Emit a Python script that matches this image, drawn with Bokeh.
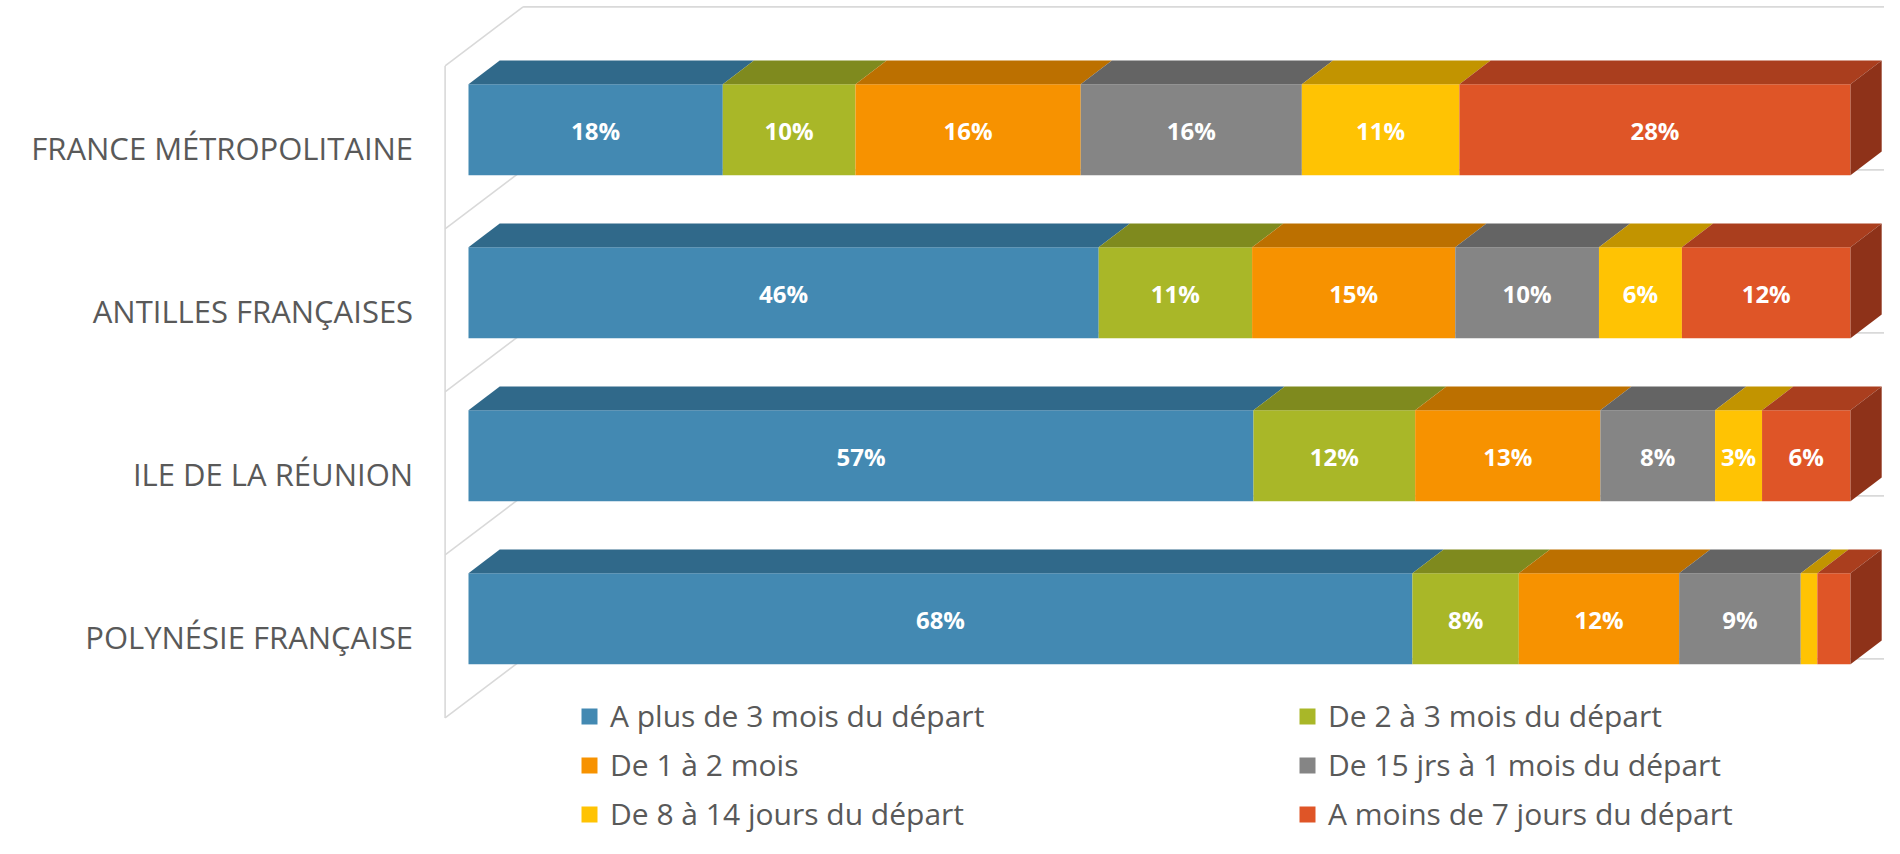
from bokeh.plotting import figure
from bokeh.models import Range1d, Legend, LegendItem, ColumnDataSource
from bokeh.core.properties import value
from bokeh.embed import file_html
from bokeh.resources import INLINE

# ---------------- data ----------------
categories = ["FRANCE MÉTROPOLITAINE", "ANTILLES FRANÇAISES",
              "ILE DE LA RÉUNION", "POLYNÉSIE FRANÇAISE"]
series = ["A plus de 3 mois du départ", "De 2 à 3 mois du départ",
          "De 1 à 2 mois", "De 15 jrs à 1 mois du départ",
          "De 8 à 14 jours du départ", "A moins de 7 jours du départ"]
plus_3_mois = [18.4, 45.6, 56.8, 68.3]
de_2_a_3_mois = [9.6, 11.1, 11.7, 7.7]
de_1_a_2_mois = [16.3, 14.7, 13.4, 11.6]
de_15_jrs_a_1_mois = [16.0, 10.4, 8.3, 8.8]
de_8_a_14_jours = [11.4, 6.0, 3.4, 1.2]
moins_7_jours = [28.3, 12.2, 6.4, 2.4]
values = [plus_3_mois, de_2_a_3_mois, de_1_a_2_mois,
          de_15_jrs_a_1_mois, de_8_a_14_jours, moins_7_jours]

front_colors = ["#4389B2", "#A9B728", "#F79200", "#858585", "#FFC303", "#DF5527"]
top_colors = ["#30698A", "#7F8A1E", "#BC7000", "#646464", "#C29400", "#AA3E1E"]
side_color = "#8E3219"
grid_color = "#D9D9D9"
text_color = "#595959"

# ---------------- layout ----------------
W, H = 1884, 838
PX_PCT = 13.82      # pixels per percent
PX_CAT = 163.0      # pixels per category
X0 = 468.0          # frame px of value 0
Y0 = 129.2          # frame px of first category centre
DX = 78.0 / PX_PCT  # full depth, in value units
DY = 59.0 / PX_CAT  # full depth, in category units
F_FRONT, F_BACK = 0.3, 0.7   # bar depth span (fraction of full depth)
BAR_H = 0.558

p = figure(width=W, height=H, output_backend="svg", toolbar_location=None,
           x_range=Range1d(-X0 / PX_PCT, (W - X0) / PX_PCT),
           y_range=Range1d((H - Y0) / PX_CAT, -Y0 / PX_CAT),
           x_axis_location=None, y_axis_location=None, min_border=0)
p.grid.visible = False
p.outline_line_color = None
p.background_fill_color = "white"
p.border_fill_color = "white"

n = len(categories)
ks = list(range(n))

# ---------------- walls (grid lines) ----------------
bounds = [k - 0.5 for k in range(n + 1)]
fx = -F_FRONT * DX
bx = (1 - F_FRONT) * DX
diag_xs = [[fx, bx] for b in bounds]
diag_ys = [[b + F_FRONT * DY, b - (1 - F_FRONT) * DY] for b in bounds]
p.multi_line(diag_xs, diag_ys, line_color=grid_color, line_width=1.6)
p.segment(x0=[fx], y0=[bounds[0] + F_FRONT * DY], x1=[fx], y1=[bounds[-1] + F_FRONT * DY],
          line_color=grid_color, line_width=1.6)
p.segment(x0=[bx] * len(bounds), y0=[b - (1 - F_FRONT) * DY for b in bounds],
          x1=[200] * len(bounds), y1=[b - (1 - F_FRONT) * DY for b in bounds],
          line_color=grid_color, line_width=1.6)

# ---------------- bars ----------------
bdx = (F_BACK - F_FRONT) * DX
bdy = (F_BACK - F_FRONT) * DY
cum = [0.0] * n
renderers = []
for i, vals in enumerate(values):
    left = cum[:]
    right = [l + v for l, v in zip(left, vals)]
    cum = right
    src = ColumnDataSource(dict(y=ks, left=left, right=right))
    r = p.hbar(y="y", left="left", right="right", height=BAR_H, source=src,
               fill_color=front_colors[i], line_color=None)
    renderers.append(r)
    xs = [[l, l + bdx, rr + bdx, rr] for l, rr in zip(left, right)]
    ys = [[k - BAR_H / 2, k - BAR_H / 2 - bdy, k - BAR_H / 2 - bdy, k - BAR_H / 2] for k in ks]
    p.patches(xs, ys, fill_color=top_colors[i], line_color=None)
    # value labels
    lx, ly, lt = [], [], []
    for k, l, rr, v in zip(ks, left, right, vals):
        if v >= 3:
            lx.append((l + rr) / 2)
            ly.append(k)
            lt.append(f"{round(v)}%")
    p.text(x=lx, y=ly, text=lt, text_color="white", text_font=value("Open Sans"),
           text_font_size="24px", text_font_style="bold", text_align="center",
           text_baseline="middle", y_offset=1)

# side face at the end of each bar
side_xs = [[c, c + bdx, c + bdx, c] for c in cum]
side_ys = [[k - BAR_H / 2, k - BAR_H / 2 - bdy, k + BAR_H / 2 - bdy, k + BAR_H / 2] for k in ks]
p.patches(side_xs, side_ys, fill_color=side_color, line_color=None)

# ---------------- category labels ----------------
p.text(x=[fx] * n, y=[k + F_FRONT * DY for k in ks], text=categories,
       text_color=text_color, text_font=value("Open Sans"), text_font_size="31px",
       text_align="right", text_baseline="middle", x_offset=-32, y_offset=1)

# ---------------- legend ----------------
legend = Legend(items=[LegendItem(label=s, renderers=[r]) for s, r in zip(series, renderers)],
                orientation="horizontal", ncols=2,
                glyph_width=20, glyph_height=20, label_standoff=11,
                label_text_font="Open Sans", label_text_font_size="30px",
                label_text_color=text_color, spacing=8, label_width=679,
                padding=0, margin=0, border_line_color=None,
                background_fill_alpha=0, location=(579, 4))
p.add_layout(legend)

open("out.html", "w").write(file_html(p, INLINE))
